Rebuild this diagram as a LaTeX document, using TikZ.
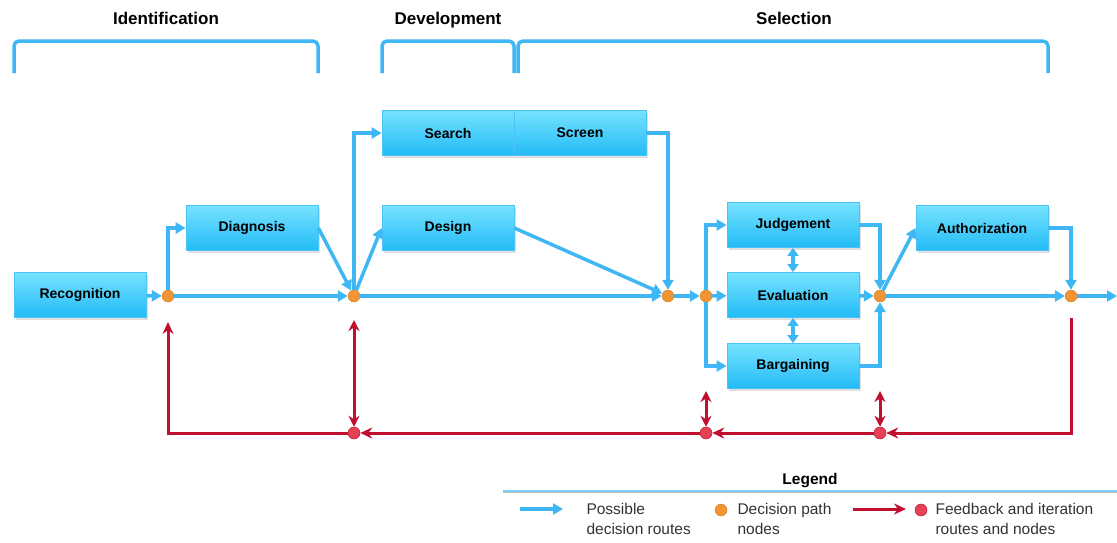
\documentclass[tikz,border=0pt]{standalone}
\usepackage{fontspec}
\setmainfont{Liberation Sans}
\usepackage{tikz}
\usetikzlibrary{arrows.meta,shadows}

\definecolor{routeblue}{HTML}{3FB7F5}
\definecolor{boxtop}{HTML}{76E2FF}
\definecolor{boxbottom}{HTML}{22BBF6}
\definecolor{boxline}{HTML}{4CC3F7}
\definecolor{pathorange}{HTML}{F29434}
\definecolor{fbred}{HTML}{C0102F}
\definecolor{fbdot}{HTML}{E54257}
\definecolor{legendgray}{HTML}{333333}

\tikzset{
	phasetitle/.style={font=\fontsize{17}{20}\selectfont\bfseries, anchor=base},
	bracket/.style={draw=routeblue, line width=3.5pt, rounded corners=5pt},
	stagebox/.style={draw=boxline, line width=0.8pt, top color=boxtop, bottom color=boxbottom,
		minimum width=132pt, minimum height=45pt, inner sep=0pt,
		font=\fontsize{14}{16}\selectfont\bfseries,
		drop shadow={opacity=0.25, shadow xshift=1.5pt, shadow yshift=-2pt}},
	pathdot/.style={circle, fill=pathorange, draw=pathorange!85!black, line width=0.4pt,
		minimum size=12pt, inner sep=0pt},
	fbdotnode/.style={circle, fill=fbdot, draw=fbred, line width=0.5pt,
		minimum size=12pt, inner sep=0pt},
	route/.style={draw=routeblue, line width=3.5pt, -{Triangle[length=10pt,width=11pt]}},
	route2/.style={draw=routeblue, line width=3.5pt, {Triangle[length=8pt,width=11pt]}-{Triangle[length=8pt,width=11pt]}},
	feedback/.style={draw=fbred, line width=3pt, -{Stealth[length=12pt,width=11pt]}},
	feedback2/.style={draw=fbred, line width=3pt, {Stealth[length=11pt,width=11pt]}-{Stealth[length=11pt,width=11pt]}},
	legendtext/.style={font=\fontsize{15.5}{20}\selectfont, text=legendgray, align=left, anchor=west}
}

\begin{document}
\begin{tikzpicture}[x=1pt, y=-1pt]
		\useasboundingbox (0,0) rectangle (1117,542);

		\node[phasetitle] (tident) at (166,24) {Identification};
		\node[phasetitle] (tdevel) at (448,24) {Development};
		\node[phasetitle] (tselect) at (794,24) {Selection};

		\draw[bracket] (14,73) -- (14,41) -- (318,41) -- (318,73);
		\draw[bracket] (382,73) -- (382,41) -- (514,41) -- (514,73);
		\draw[bracket] (518,73) -- (518,41) -- (1048,41) -- (1048,73);

		\node[stagebox] (recog) at (80,295) {Recognition};
		\node[stagebox] (diag) at (252,228) {Diagnosis};
		\node[stagebox] (search) at (448,133) {Search};
		\node[stagebox] (screen) at (580,133) {Screen};
		\node[stagebox] (design) at (448,228) {Design};
		\node[stagebox] (judge) at (793,225) {Judgement};
		\node[stagebox] (eval) at (793,295) {Evaluation};
		\node[stagebox] (barg) at (793,366) {Bargaining};
		\node[stagebox] (auth) at (982,228) {Authorization};

		\node[pathdot] (d1) at (168,296) {};
		\node[pathdot] (d2) at (354,296) {};
		\node[pathdot] (d3) at (668,296) {};
		\node[pathdot] (d4) at (706,296) {};
		\node[pathdot] (d5) at (880,296) {};
		\node[pathdot] (d6) at (1071,296) {};
		\coordinate (out) at (1117,296);

		\draw[route] (recog) -- (d1);
		\draw[route] (d1) |- (diag);
		\draw[route] (d1) -- (d2);
		\draw[route] (diag.east) -- (d2);
		\draw[route] (d2) |- (search);
		\draw[route] (d2) -- (design.west);
		\draw[route] (d2) -- (d3);
		\draw[route] (design.east) -- (d3);
		\draw[route] (screen.east) -| (d3);
		\draw[route] (d3) -- (d4);
		\draw[route] (d4) |- (judge);
		\draw[route] (d4) -- (eval);
		\draw[route] (d4) |- (barg);
		\draw[route2] (judge) -- (eval);
		\draw[route2] (eval) -- (barg);
		\draw[route] (judge.east) -| (d5);
		\draw[route] (eval) -- (d5);
		\draw[route] (barg.east) -| (d5);
		\draw[route] (d5) -- (auth.west);
		\draw[route] (d5) -- (d6);
		\draw[route] (auth.east) -| (d6);
		\draw[route] (d6) -- (out);

		\node[fbdotnode] (f1) at (354,433) {};
		\node[fbdotnode] (f2) at (706,433) {};
		\node[fbdotnode] (f3) at (880,433) {};
		\coordinate (fbstart) at (1071,318);
		\coordinate (fbend) at (168,322);
		\coordinate (f1top) at (354,320);
		\coordinate (f2top) at (706,391);
		\coordinate (f3top) at (880,391);

		\draw[feedback] (fbstart) |- (f3);
		\draw[feedback] (f3) -- (f2);
		\draw[feedback] (f2) -- (f1);
		\draw[feedback] (f1) -| (fbend);
		\draw[feedback2] (f1top) -- (f1);
		\draw[feedback2] (f2top) -- (f2);
		\draw[feedback2] (f3top) -- (f3);

		\node[font=\fontsize{15.5}{17.5}\selectfont\bfseries, anchor=base] (legend) at (810,484) {Legend};
		\draw[black!25, line width=1pt] (503,492) -- (1117,492);
		\draw[routeblue!70, line width=1.2pt] (503,491) -- (1117,491);
		\coordinate (la1) at (520,509);
		\coordinate (la2) at (563,509);
		\draw[route] (la1) -- (la2);
		\node[legendtext] (lroute) at (583,519) {Possible\\decision routes};
		\node[pathdot] (ldot) at (721,510) {};
		\node[legendtext] (lpath) at (734,519) {Decision path\\nodes};
		\coordinate (lf1) at (853,509);
		\coordinate (lf2) at (906,509);
		\draw[feedback] (lf1) -- (lf2);
		\node[fbdotnode] (lfdot) at (921,510) {};
		\node[legendtext] (lfeed) at (932,519) {Feedback and iteration\\routes and nodes};
\end{tikzpicture}
\end{document}
